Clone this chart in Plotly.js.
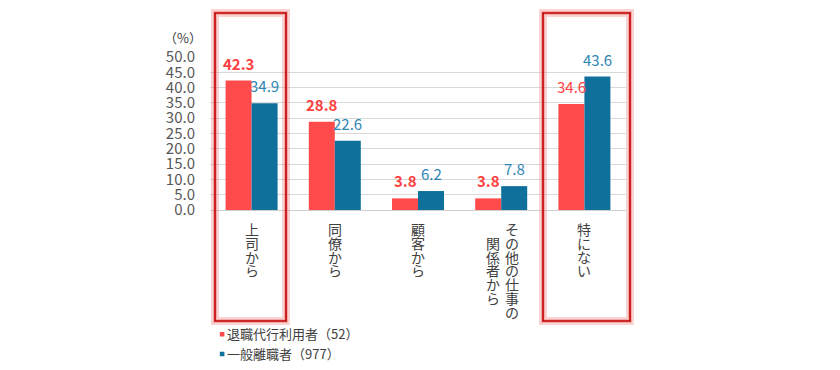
<!DOCTYPE html>
<html>
<head>
<meta charset="utf-8">
<script src="https://cdn.plot.ly/plotly-3.0.1.min.js"></script>
<style>
  html, body { margin: 0; padding: 0; background: #ffffff; }
  #chart { width: 840px; height: 370px; }
</style>
</head>
<body>
<div id="chart"></div>
<script>
// ---- data ----
const categories = ['上司から', '同僚から', '顧客から', 'その他の仕事の関係者から', '特にない'];
const seriesNames = ['退職代行利用者（52）', '一般離職者（977）'];
const agencyUsers = [42.3, 28.8, 3.8, 3.8, 34.6];
const generalLeavers = [34.9, 22.6, 6.2, 7.8, 43.6];
const yTickValues = [0, 5, 10, 15, 20, 25, 30, 35, 40, 45, 50];
const unitLabel = '（%）';

// ---- style ----
const FONT = '"Noto Sans CJK JP", "Noto Sans", sans-serif';
const RED = '#FF4B4B';
const BLUE = '#0F709C';
const RED_TEXT = '#FF4040';
const BLUE_TEXT = '#2F86B4';
const TEXT = '#404040';

const traces = [
  {
    type: 'bar', name: seriesNames[0], x: categories, y: agencyUsers,
    marker: { color: RED }, hoverinfo: 'x+y'
  },
  {
    type: 'bar', name: seriesNames[1], x: categories, y: generalLeavers,
    marker: { color: BLUE }, hoverinfo: 'x+y'
  }
];

const annotations = [];

// data labels
const halfBar = 13;
categories.forEach((c, i) => {
  const a = agencyUsers[i], g = generalLeavers[i];
  const aTxt = a.toFixed(1);
  annotations.push({
    x: c, y: a, xref: 'x', yref: 'y', showarrow: false,
    xanchor: 'center', yanchor: 'bottom', xshift: -halfBar, yshift: 5,
    text: i === categories.length - 1 ? aTxt : '<b>' + aTxt + '</b>',
    font: { family: FONT, size: 15, color: RED_TEXT }
  });
  annotations.push({
    x: c, y: g, xref: 'x', yref: 'y', showarrow: false,
    xanchor: 'center', yanchor: 'bottom', xshift: halfBar, yshift: 5,
    text: g.toFixed(1),
    font: { family: FONT, size: 15, color: BLUE_TEXT }
  });
});

// vertical (top-to-bottom, right-to-left) category labels
const colMax = 7, pitch = 13.8, colGap = 19;
categories.forEach((c) => {
  const chars = Array.from(c);
  const cols = [];
  for (let k = 0; k < chars.length; k += colMax) cols.push(chars.slice(k, k + colMax));
  const maxLen = Math.max(...cols.map(col => col.length));
  cols.forEach((col, ci) => {
    const xoff = cols.length > 1 ? ((cols.length - 1) / 2 - ci) * colGap + 1.5 : 0;
    const yoff = (maxLen - col.length) / 2;
    col.forEach((ch, j) => {
      annotations.push({
        x: c, y: 0, xref: 'x', yref: 'paper', showarrow: false,
        xanchor: 'center', yanchor: 'middle', borderpad: 0,
        xshift: xoff, yshift: -(19 + pitch * (j + yoff)),
        text: ch, font: { family: FONT, size: 14, color: TEXT }
      });
    });
  });
});

// unit label
annotations.push({
  x: -0.066, y: 1.13, xref: 'paper', yref: 'paper', showarrow: false,
  xanchor: 'center', yanchor: 'middle', text: unitLabel,
  font: { family: FONT, size: 13, color: TEXT }
});

// highlight boxes (glow + dark red frame)
const boxes = [
  { x0: 0.012, x1: 0.1827 },
  { x0: 0.8005, x1: 1.0096 }
];
const shapes = [];
boxes.forEach(b => {
  const base = { type: 'rect', xref: 'paper', yref: 'paper', x0: b.x0, x1: b.x1, y0: -0.7255, y1: 1.2876, layer: 'above', fillcolor: 'rgba(0,0,0,0)' };
  shapes.push(Object.assign({}, base, { line: { color: 'rgba(240,110,110,0.3)', width: 8 } }));
  shapes.push(Object.assign({}, base, { line: { color: 'rgba(240,120,120,0.45)', width: 4 } }));
  shapes.push(Object.assign({}, base, { line: { color: '#C00000', width: 1.6 } }));
});

const layout = {
  width: 840, height: 370,
  margin: { l: 210, r: 214, t: 57, b: 160, pad: 0, autoexpand: false },
  paper_bgcolor: '#ffffff', plot_bgcolor: '#ffffff',
  font: { family: FONT, color: TEXT },
  barmode: 'group', bargap: 0.375, bargroupgap: 0,
  showlegend: true,
  legend: {
    x: -0.055, y: -0.714, xanchor: 'left', yanchor: 'top',
    orientation: 'v', bgcolor: 'rgba(0,0,0,0)',
    font: { family: FONT, size: 13, color: TEXT },
    itemwidth: 30, tracegroupgap: 0
  },
  xaxis: {
    type: 'category', showticklabels: false, showgrid: false,
    zeroline: false, showline: false, ticks: '', fixedrange: true
  },
  yaxis: {
    range: [0, 50], tickvals: yTickValues, tickformat: '.1f',
    showgrid: true, gridcolor: '#D9D9D9', gridwidth: 1,
    zeroline: true, zerolinecolor: '#CFCFCF', zerolinewidth: 1,
    showline: false, ticks: '', ticklabelstandoff: 14,
    tickfont: { family: FONT, size: 15, color: '#595959' }, fixedrange: true
  },
  annotations: annotations,
  shapes: shapes
};

Plotly.newPlot('chart', traces, layout, { displayModeBar: false, staticPlot: true }).then(gd => {
  // small square legend markers placed just left of the text, as in the reference
  gd.querySelectorAll('.legend .traces').forEach(item => {
    const p = item.querySelector('.legendpoints path');
    const t = item.querySelector('.legendtext');
    if (!p || !t) return;
    const s = 0.38;
    p.setAttribute('transform', 'scale(' + s + ')');
    const pr = p.getBoundingClientRect();
    const tr = t.getBoundingClientRect();
    const dx = (tr.left - 5) - (pr.left + pr.width / 2);
    p.setAttribute('transform', 'translate(' + dx + ',0) scale(' + s + ')');
  });
});
</script>
</body>
</html>
